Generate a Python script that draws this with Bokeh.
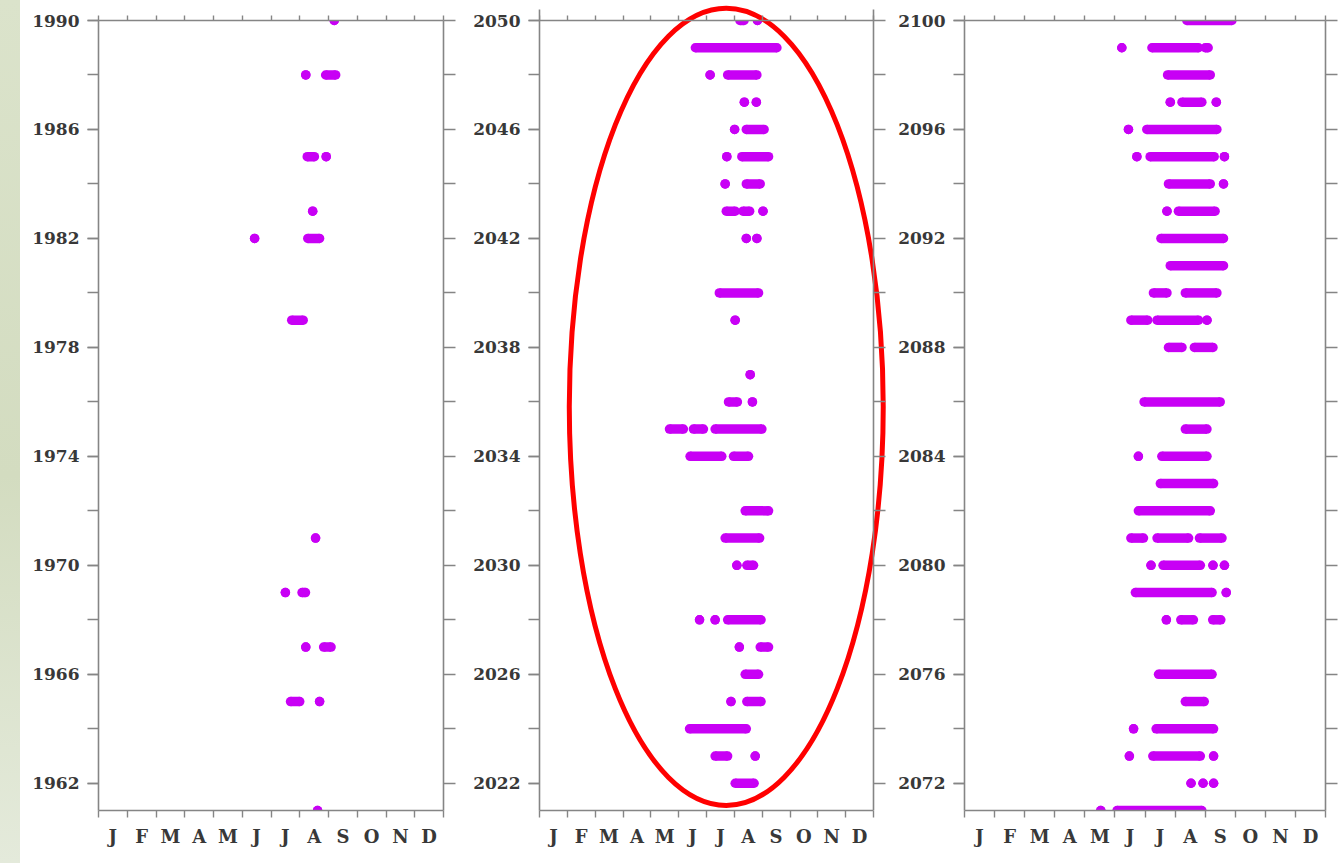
from bokeh.plotting import figure
from bokeh.models import ColumnDataSource, LinearAxis, FixedTicker, Range1d, BoxAnnotation, Div
from bokeh.layouts import row
from bokeh.embed import file_html
from bokeh.resources import INLINE

MONTHS = ["J", "F", "M", "A", "M", "J", "J", "A", "S", "O", "N", "D"]

# Each entry is one run of event days: year, first and last position (in months from 1 Jan).
# A single isolated day has start == end.

# 1961-1990
P1_YEAR = [1990, 1988, 1988, 1985, 1985, 1983, 1982, 1982, 1979,
           1971, 1969, 1969, 1967, 1967, 1965, 1965, 1961]
P1_START = [8.20, 7.21, 7.90, 7.26, 7.92, 7.45, 5.43, 7.28, 6.72,
            7.55, 6.50, 7.08, 7.21, 7.83, 6.68, 7.69, 7.62]
P1_END = [8.20, 7.21, 8.25, 7.51, 7.92, 7.45, 5.43, 7.69, 7.12,
          7.55, 6.50, 7.20, 7.21, 8.09, 7.00, 7.69, 7.62]

# 2021-2050
P2_YEAR = [2050, 2050, 2049, 2048, 2048, 2047, 2047, 2046, 2046, 2045, 2045,
           2044, 2044, 2043, 2043, 2043, 2042, 2042, 2040, 2039, 2037, 2036, 2036,
           2035, 2035, 2035, 2034, 2034, 2032, 2031, 2030, 2030, 2028, 2028, 2028,
           2027, 2027, 2026, 2025, 2025, 2024, 2023, 2023, 2022]
P2_START = [7.20, 7.83, 5.60, 6.13, 6.76, 7.36, 7.79, 7.01, 7.43, 6.73, 7.27,
            6.67, 7.43, 6.71, 7.31, 8.03, 7.43, 7.81, 6.46, 7.03, 7.57, 6.79, 7.65,
            4.67, 5.53, 6.31, 5.41, 6.97, 7.39, 6.67, 7.09, 7.45, 5.75, 6.31, 6.76,
            7.18, 7.93, 7.39, 6.88, 7.45, 5.39, 6.31, 7.75, 7.03]
P2_END = [7.35, 7.83, 8.53, 6.13, 7.81, 7.36, 7.79, 7.01, 8.07, 6.73, 8.23,
          6.67, 7.93, 7.03, 7.55, 8.03, 7.43, 7.81, 7.87, 7.03, 7.57, 7.11, 7.65,
          5.17, 5.89, 7.99, 6.55, 7.51, 8.23, 7.91, 7.09, 7.69, 5.75, 6.31, 7.96,
          7.18, 8.23, 7.87, 6.88, 7.96, 7.43, 6.76, 7.75, 7.71]

# 2071-2100
P3_YEAR = [2100, 2099, 2099, 2099, 2098, 2097, 2097, 2097, 2096, 2096,
           2095, 2095, 2095, 2094, 2094, 2093, 2093, 2092, 2091, 2090, 2090,
           2089, 2089, 2089, 2088, 2088, 2086, 2085, 2084, 2084, 2083, 2082,
           2081, 2081, 2081, 2080, 2080, 2080, 2080, 2079, 2079,
           2078, 2078, 2078, 2076, 2075, 2074, 2074, 2073, 2073, 2073,
           2072, 2072, 2072, 2071, 2071]
P3_START = [7.39, 5.23, 6.23, 8.00, 6.75, 6.84, 7.23, 8.37, 5.45, 6.06,
            5.73, 6.17, 8.64, 6.78, 8.61, 6.73, 7.11, 6.53, 6.84, 6.28, 7.34,
            5.53, 6.40, 8.06, 6.78, 7.64, 5.97, 7.34, 5.78, 6.56, 6.51, 5.78,
            5.53, 6.40, 7.81, 6.20, 6.60, 8.26, 8.64, 5.68, 8.70,
            6.71, 7.19, 8.25, 6.45, 7.34, 5.62, 6.37, 5.48, 6.26, 8.28,
            7.53, 7.93, 8.28, 4.53, 5.07]
P3_END = [8.89, 5.23, 7.78, 8.10, 8.17, 6.84, 7.89, 8.37, 5.45, 8.39,
          5.73, 8.30, 8.64, 8.17, 8.61, 6.73, 8.33, 8.61, 8.61, 6.73, 8.39,
          6.09, 7.78, 8.06, 7.23, 8.26, 8.50, 8.06, 5.78, 8.06, 8.28, 8.17,
          5.95, 7.45, 8.56, 6.20, 7.84, 8.26, 8.64, 8.23, 8.70,
          6.71, 7.61, 8.52, 8.23, 7.97, 5.62, 8.28, 5.48, 7.84, 8.28,
          7.53, 7.93, 8.28, 4.53, 7.89]

AXIS_COLOR = "#858585"
LABEL_COLOR = "#383838"
DOT_COLOR = "#c800f5"
DOT_SIZE = 9.5
FONT = "DejaVu Serif"

FIG_H = 863
FRAME_H = 790          # height of the 29-year frame
TOP_PAD = 20
BOTTOM_PAD = 53

# highlight ring around the mid-century panel (data units of that panel)
RING_X, RING_Y, RING_W, RING_H = 6.71, 2035.82, 11.28, 29.28


def style_axis(ax):
    ax.axis_line_color = AXIS_COLOR
    ax.axis_line_width = 1.6
    ax.major_tick_line_color = AXIS_COLOR
    ax.minor_tick_line_color = AXIS_COLOR
    ax.major_tick_line_width = 1.4
    ax.minor_tick_line_width = 1.4
    ax.major_tick_in = 0
    ax.minor_tick_in = 0
    ax.major_label_text_font = FONT
    ax.major_label_text_font_style = "bold"
    ax.major_label_text_color = LABEL_COLOR


def build_panel(first, last, years, starts, ends, width, left, right,
                frame_w, month_w=None, extend_top=0):
    # month_w: pixel width of the 12 months when the frame is wider than the axes
    x_end = 12.0 if month_w is None else 12.0 * frame_w / month_w
    y_end = last + (last - first) * extend_top / FRAME_H
    p = figure(width=width, height=FIG_H, title=None, frame_align=False,
               x_range=Range1d(0, x_end), y_range=Range1d(first, y_end),
               min_border_left=left, min_border_right=right,
               min_border_top=TOP_PAD - extend_top, min_border_bottom=BOTTOM_PAD,
               x_axis_location=None, y_axis_location=None,
               toolbar_location=None, output_backend="svg")
    p.outline_line_color = None
    p.background_fill_color = "white"
    p.border_fill_color = "white"
    p.xgrid.visible = False
    p.ygrid.visible = False

    majors = list(range(first + 1, last + 1, 4))
    minors = list(range(first + 1, last + 1, 2))
    y_bounds = (first - 0.5, last + 0.4)

    left_ax = LinearAxis(ticker=FixedTicker(ticks=majors, minor_ticks=minors), bounds=y_bounds)
    style_axis(left_ax)
    left_ax.major_tick_out = 11
    left_ax.minor_tick_out = 11
    left_ax.major_label_standoff = 8
    left_ax.major_label_text_font_size = "17px"
    p.add_layout(left_ax, "left")

    right_ax = LinearAxis(ticker=FixedTicker(ticks=[], minor_ticks=minors), bounds=y_bounds)
    style_axis(right_ax)
    right_ax.minor_tick_out = 12
    right_ax.major_label_text_font_size = "0px"
    if month_w is not None:
        right_ax.fixed_location = 12
    p.add_layout(right_ax, "right")

    bottom_ax = LinearAxis(ticker=FixedTicker(ticks=[m + 0.5 for m in range(12)],
                                              minor_ticks=list(range(13))), bounds=(0, 12))
    style_axis(bottom_ax)
    bottom_ax.major_tick_out = 0
    bottom_ax.minor_tick_out = 7
    bottom_ax.major_label_standoff = 8
    bottom_ax.major_label_text_font_size = "18px"
    bottom_ax.major_label_overrides = {m + 0.5: MONTHS[m] for m in range(12)}
    p.add_layout(bottom_ax, "below")

    top_ax = LinearAxis(ticker=FixedTicker(ticks=[], minor_ticks=list(range(13))), bounds=(0, 12))
    style_axis(top_ax)
    top_ax.major_label_text_font_size = "0px"
    if extend_top:
        # pinned to the last year inside the taller frame; ticks still point upward
        top_ax.fixed_location = last
        top_ax.minor_tick_in = 5
        top_ax.minor_tick_out = 0
        p.add_layout(top_ax, "below")
    else:
        top_ax.minor_tick_out = 5
        p.add_layout(top_ax, "above")

    src = ColumnDataSource(dict(year=years, start=starts, end=ends))
    p.segment(x0="start", y0="year", x1="end", y1="year", source=src,
              line_color=DOT_COLOR, line_width=DOT_SIZE)
    p.scatter(x="start", y="year", source=src, size=DOT_SIZE,
              fill_color=DOT_COLOR, line_color=None)
    p.scatter(x="end", y="year", source=src, size=DOT_SIZE,
              fill_color=DOT_COLOR, line_color=None)

    if extend_top:
        # keep the frame edge at the last year; marks beyond it are cut like in the other panels
        p.add_layout(BoxAnnotation(bottom=last, fill_color="white", fill_alpha=1.0,
                                   line_alpha=0))
        for ax in (left_ax, right_ax, bottom_ax, top_ax):
            ax.level = "overlay"
    return p


p1 = build_panel(1961, 1990, P1_YEAR, P1_START, P1_END,
                 width=443, left=78, right=20, frame_w=345)
p2 = build_panel(2021, 2050, P2_YEAR, P2_START, P2_END,
                 width=428, left=76, right=0, frame_w=352, month_w=334, extend_top=TOP_PAD)
p2.ellipse(x=[RING_X], y=[RING_Y], width=[RING_W], height=[RING_H],
           fill_color=None, line_color="#ff0000", line_width=5, level="overlay")
p3 = build_panel(2071, 2100, P3_YEAR, P3_START, P3_END,
                 width=450, left=73, right=16, frame_w=361)

edge = Div(width=20, height=FIG_H, margin=0, styles={
    "background": "linear-gradient(180deg, #dbe3cb 0%, #d3dcc0 55%, #e4eadb 100%)"})

layout = row(edge, p1, p2, p3)
open("out.html", "w").write(file_html(layout, INLINE))
